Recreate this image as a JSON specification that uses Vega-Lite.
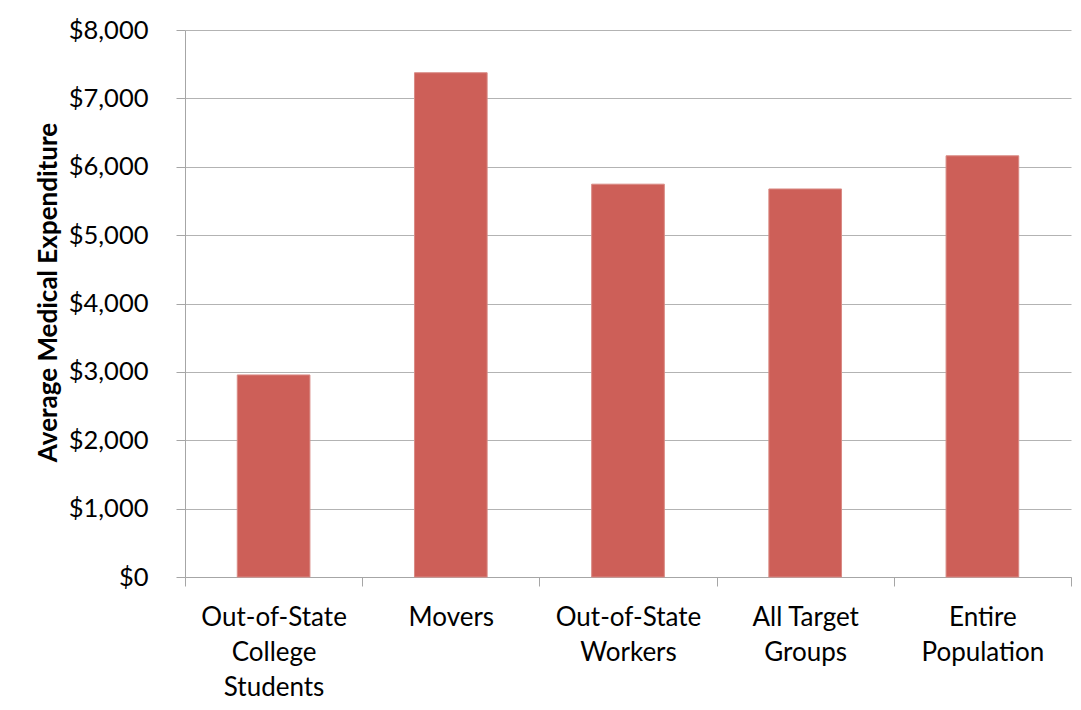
{
  "$schema": "https://vega.github.io/schema/vega-lite/v6.json",
  "width": 886,
  "height": 547,
  "autosize": {"type": "none"},
  "padding": {"left": 185, "top": 30, "right": 10, "bottom": 133},
  "background": "white",
  "config": {
    "view": {"stroke": null},
    "font": "Lato"
  },
  "data": {
    "values": [
      {"group": "Out-of-State\nCollege\nStudents", "expenditure": 2955},
      {"group": "Movers", "expenditure": 7375},
      {"group": "Out-of-State\nWorkers", "expenditure": 5745},
      {"group": "All Target\nGroups", "expenditure": 5675},
      {"group": "Entire\nPopulation", "expenditure": 6160}
    ]
  },
  "mark": {"type": "bar", "width": {"band": 0.41}, "fill": "#CD5F58", "stroke": "#D98A84", "strokeWidth": 1},
  "encoding": {
    "x": {
      "field": "group",
      "type": "nominal",
      "sort": null,
      "scale": {"paddingInner": 0, "paddingOuter": 0},
      "axis": {
        "title": null,
        "labelAngle": 0,
        "labelExpr": "split(datum.label, '\\n')",
        "labelFont": "Lato",
        "labelFontSize": 26,
        "labelColor": "#000000",
        "labelLineHeight": 35,
        "labelBaseline": "top",
        "labelPadding": 18,
        "tickBand": "extent",
        "tickSize": 9,
        "tickColor": "#A6A6A6",
        "domainColor": "#A6A6A6",
        "grid": false
      }
    },
    "y": {
      "field": "expenditure",
      "type": "quantitative",
      "scale": {"domain": [0, 8000], "nice": false},
      "axis": {
        "title": "Average Medical Expenditure",
        "titleFont": "Lato",
        "titleFontSize": 26,
        "titleFontWeight": "bold",
        "titleColor": "#000000",
        "titleX": -137,
        "titleY": 262,
        "titleAngle": -90,
        "titleBaseline": "middle",
        "titleAlign": "center",
        "values": [0, 1000, 2000, 3000, 4000, 5000, 6000, 7000, 8000],
        "format": "$,.0f",
        "labelFont": "Lato",
        "labelFontSize": 25.5,
        "labelColor": "#000000",
        "labelPadding": 28,
        "tickSize": 9,
        "tickColor": "#A6A6A6",
        "domainColor": "#A6A6A6",
        "grid": true,
        "gridColor": "#B3B3B3",
        "gridWidth": 1
      }
    }
  }
}
